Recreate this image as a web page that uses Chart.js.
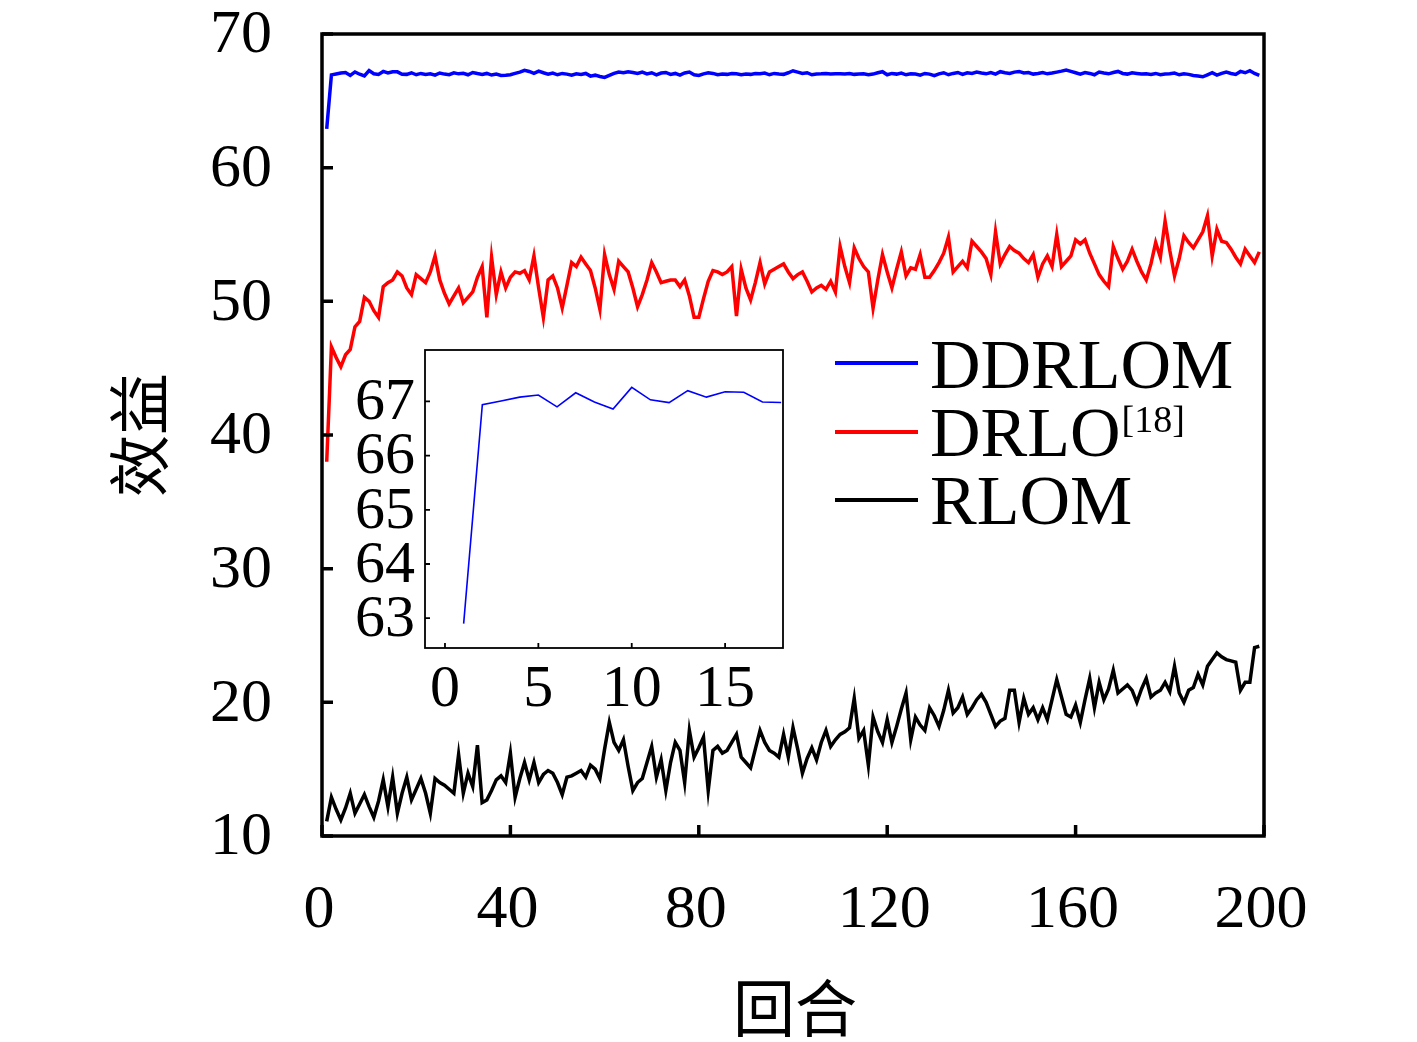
<!DOCTYPE html>
<html>
<head>
<meta charset="utf-8">
<script src="https://cdn.jsdelivr.net/npm/chart.js@4.4.1/dist/chart.umd.min.js"></script>
<style>
  html, body { margin: 0; padding: 0; background: #fff; }
  #wrap { position: relative; width: 1417px; height: 1042px; }
  #main { position: absolute; left: 0; top: 0; }
  #inset { position: absolute; left: 330px; top: 340px; }
</style>
</head>
<body>
<div id="wrap">
  <canvas id="main" width="1417" height="1042"></canvas>
  <canvas id="inset" width="460" height="390"></canvas>
</div>
<script>
// values, episode 1..199
const ddrlom = [
  62.90, 66.94, 67.01, 67.08, 67.12, 66.90, 67.16, 66.99, 66.86, 67.26,
  67.03, 66.98, 67.20, 67.08, 67.18, 67.17, 66.99, 66.98, 67.10, 66.95,
  67.05, 66.98, 67.02, 66.92, 67.08, 67.00, 66.96, 67.10, 67.02, 67.06,
  66.95, 67.12, 67.04, 66.98, 67.05, 66.93, 67.00, 66.90, 66.92, 66.95,
  67.05, 67.15, 67.28, 67.20, 67.05, 67.22, 67.10, 67.00, 67.08, 66.95,
  67.05, 67.00, 66.92, 67.02, 66.98, 67.05, 66.85, 66.92, 66.82, 66.75,
  66.90, 67.05, 67.15, 67.10, 67.18, 67.12, 67.05, 67.15, 67.02, 67.10,
  66.95, 67.08, 67.12, 66.98, 67.05, 66.92, 67.08, 67.15, 66.95, 66.90,
  67.02, 67.10, 67.05, 66.95, 67.00, 66.98, 67.05, 67.02, 66.96, 67.00,
  66.98, 67.04, 67.02, 67.08, 66.95, 67.05, 67.00, 66.98, 67.10, 67.25,
  67.15, 67.05, 67.10, 66.95, 67.00, 67.02, 67.05, 67.00, 67.03, 67.02,
  67.00, 67.05, 66.98, 67.00, 67.02, 66.95, 67.00, 67.10, 67.18, 66.95,
  67.05, 67.00, 67.08, 66.95, 67.02, 67.00, 66.92, 67.05, 67.00, 66.88,
  67.02, 67.10, 66.95, 67.05, 67.12, 66.98, 67.10, 67.05, 67.15, 67.08,
  67.02, 67.12, 67.00, 67.18, 67.10, 67.05, 67.15, 67.20, 67.08, 67.12,
  67.00, 67.05, 67.12, 67.02, 67.08, 67.15, 67.22, 67.30, 67.20, 67.10,
  67.00, 67.12, 67.05, 66.95, 67.15, 67.08, 67.02, 67.12, 67.20, 67.05,
  67.00, 67.10, 67.05, 67.00, 67.02, 66.98, 67.05, 66.95, 67.00, 67.02,
  67.08, 66.95, 67.02, 66.98, 66.90, 66.85, 66.80, 66.95, 67.10, 66.92,
  67.05, 67.15, 67.05, 66.98, 67.20, 67.10, 67.25, 67.05, 66.90
];
const drlo = [
  38.0, 46.6, 45.8, 45.1, 46.0, 46.4, 48.1, 48.5, 50.3, 50.0,
  49.3, 48.8, 51.1, 51.4, 51.6, 52.2, 51.9, 51.0, 50.5, 52.0,
  51.7, 51.4, 52.2, 53.4, 51.6, 50.6, 49.8, 50.4, 51.0, 49.9,
  50.3, 50.7, 51.8, 52.6, 48.8, 53.3, 50.5, 52.2, 51.0, 51.8,
  52.2, 52.1, 52.3, 51.6, 53.4, 51.0, 48.8, 51.6, 51.9, 51.0,
  49.5, 51.2, 52.9, 52.6, 53.3, 52.8, 52.3, 51.0, 49.4, 53.5,
  52.0, 50.9, 53.0, 52.6, 52.2, 51.0, 49.6, 50.5, 51.6, 52.9,
  52.2, 51.4, 51.5, 51.6, 51.6, 51.1, 51.6, 50.4, 48.8, 48.8,
  50.2, 51.5, 52.3, 52.2, 52.0, 52.2, 52.6, 48.9, 52.4, 51.0,
  50.1, 51.4, 52.9, 51.3, 52.2, 52.4, 52.6, 52.8, 52.2, 51.7,
  52.0, 52.2, 51.5, 50.7, 51.0, 51.2, 50.9, 51.5, 50.7, 54.1,
  52.6, 51.4, 54.0, 53.2, 52.6, 52.2, 49.5, 51.6, 53.5, 52.2,
  51.0, 52.4, 53.7, 51.9, 52.5, 52.4, 53.5, 51.8, 51.8, 52.3,
  52.9, 53.6, 54.8, 52.2, 52.6, 53.0, 52.5, 54.5, 54.1, 53.7,
  53.2, 52.0, 55.2, 52.8, 53.5, 54.1, 53.8, 53.6, 53.2, 52.9,
  53.5, 51.8, 52.8, 53.4, 52.6, 55.0, 52.6, 53.0, 53.4, 54.6,
  54.3, 54.6, 53.6, 52.8, 52.0, 51.5, 51.1, 54.1, 53.2, 52.4,
  53.0, 53.9, 53.0, 52.2, 51.6, 52.8, 54.4, 53.3, 56.0, 53.8,
  51.9, 53.2, 54.9, 54.4, 54.0, 54.6, 55.2, 56.4, 53.4, 55.4,
  54.5, 54.4, 53.9, 53.3, 52.8, 53.9, 53.4, 52.9, 53.7
];
const rlom = [
  11.1, 12.9, 12.0, 11.2, 12.1, 13.2, 11.7, 12.4, 13.1, 12.2,
  11.4, 12.6, 14.2, 12.2, 14.4, 11.7, 13.2, 14.4, 12.7, 13.5,
  14.3, 13.2, 11.7, 14.3, 14.0, 13.8, 13.5, 13.2, 16.1, 13.2,
  14.7, 13.7, 16.8, 12.5, 12.7, 13.4, 14.2, 14.5, 14.0, 16.2,
  12.9, 14.3, 15.5, 14.2, 15.5, 14.0, 14.6, 14.9, 14.7, 14.0,
  13.1, 14.4, 14.5, 14.7, 14.9, 14.4, 15.3, 15.0, 14.3, 16.5,
  18.5, 17.0, 16.4, 17.2, 15.2, 13.4, 14.0, 14.3, 15.5, 16.7,
  14.4, 15.7, 13.4, 15.5, 17.0, 16.4, 14.0, 17.9, 15.9, 16.6,
  17.4, 13.4, 16.4, 16.7, 16.2, 16.4, 17.0, 17.6, 15.9, 15.5,
  15.1, 16.5, 17.9, 17.0, 16.4, 16.2, 15.9, 17.6, 15.9, 18.1,
  16.5, 14.7, 15.8, 16.6, 15.7, 17.0, 17.9, 16.7, 17.2, 17.6,
  17.8, 18.1, 20.3, 17.3, 17.9, 15.3, 18.9, 17.8, 17.0, 18.7,
  17.0, 18.2, 19.5, 20.7, 17.2, 18.9, 18.3, 17.9, 19.6, 19.0,
  18.2, 19.4, 20.9, 19.2, 19.6, 20.4, 19.1, 19.6, 20.2, 20.6,
  20.0, 19.1, 18.2, 18.6, 18.8, 20.9, 20.9, 18.5, 20.3, 19.1,
  19.6, 18.7, 19.6, 18.7, 20.2, 21.7, 20.4, 19.1, 18.9, 19.8,
  18.5, 20.2, 21.8, 19.6, 21.5, 20.2, 21.0, 22.4, 20.7, 21.0,
  21.3, 20.9, 20.0, 21.0, 21.8, 20.4, 20.7, 20.9, 21.5, 20.8,
  22.7, 20.7, 20.0, 20.9, 21.1, 22.1, 21.3, 22.7, 23.2, 23.7,
  23.4, 23.2, 23.1, 23.0, 20.9, 21.5, 21.5, 24.1, 24.2
];
const seriesNames = ['DDRLOM', 'DRLO', 'RLOM'];
const seriesSup = ['', '[18]', ''];
const seriesColors = ['#0000ff', '#ff0000', '#000000'];
const mainXTicks = [0, 40, 80, 120, 160, 200];
const mainYTicks = [10, 20, 30, 40, 50, 60, 70];
const insetCount = 18;
const insetXTicks = [0, 5, 10, 15];
const insetYTicks = [63, 64, 65, 66, 67];
const xTitle = '回合';
const yTitle = '效益';

const serif = "'Liberation Serif', 'DejaVu Serif', serif";
const cjk = "'Noto Sans CJK SC', sans-serif";
const toPoints = arr => arr.map((v, i) => ({ x: i + 1, y: v }));

// box, inward tick marks and tick labels, all placed from the chart's scales
function frame(o) {
  return {
    id: 'frame',
    beforeDraw(chart) {
      const { ctx, chartArea: a } = chart;
      ctx.save();
      ctx.fillStyle = '#fff';
      ctx.fillRect(a.left, a.top, a.width, a.height);
      ctx.restore();
    },
    afterDraw(chart) {
      const { ctx, chartArea: a, scales: { x, y } } = chart;
      ctx.save();
      ctx.strokeStyle = '#000';
      ctx.lineWidth = o.lw;
      ctx.beginPath();
      x.ticks.forEach(t => {
        const px = x.getPixelForValue(t.value);
        ctx.moveTo(px, a.bottom); ctx.lineTo(px, a.bottom - o.len);
      });
      y.ticks.forEach(t => {
        const py = y.getPixelForValue(t.value);
        ctx.moveTo(a.left, py); ctx.lineTo(a.left + o.len, py);
      });
      ctx.stroke();
      ctx.strokeRect(a.left, a.top, a.width, a.height);

      ctx.fillStyle = '#000';
      ctx.font = o.size + 'px ' + serif;
      ctx.textBaseline = 'middle';
      ctx.textAlign = 'center';
      x.ticks.forEach(t => {
        ctx.fillText(String(t.value), x.getPixelForValue(t.value) + o.xShift, a.bottom + o.xGap);
      });
      ctx.textAlign = 'right';
      y.ticks.forEach(t => {
        ctx.fillText(String(t.value), a.left - o.yGap, y.getPixelForValue(t.value) + 2);
      });
      ctx.restore();
    }
  };
}

// axis titles and the legend with the superscript reference
const mainDecor = {
  id: 'mainDecor',
  afterDraw(chart) {
    const { ctx } = chart;
    ctx.save();
    ctx.fillStyle = '#000';
    ctx.font = '62px ' + cjk;
    ctx.textAlign = 'center';
    ctx.textBaseline = 'middle';
    ctx.fillText(xTitle, 795, 1008);
    ctx.translate(139, 435);
    ctx.rotate(-Math.PI / 2);
    ctx.fillText(yTitle, 0, 0);
    ctx.restore();

    const lineY = [363, 432, 500];
    const baseY = [388, 456, 524];
    ctx.save();
    seriesNames.forEach((name, i) => {
      ctx.strokeStyle = seriesColors[i];
      ctx.lineWidth = 4;
      ctx.beginPath();
      ctx.moveTo(835, lineY[i]); ctx.lineTo(918, lineY[i]);
      ctx.stroke();
      ctx.fillStyle = '#000';
      ctx.textAlign = 'left';
      ctx.textBaseline = 'alphabetic';
      ctx.font = '70px ' + serif;
      ctx.fillText(name, 930, baseY[i]);
      if (seriesSup[i]) {
        const w = ctx.measureText(name).width;
        ctx.font = '38px ' + serif;
        ctx.fillText(seriesSup[i], 930 + w + 1, baseY[i] - 24);
      }
    });
    ctx.restore();
  }
};

const hiddenAxis = { grid: { display: false }, border: { display: false }, ticks: { display: false } };

new Chart(document.getElementById('main'), {
  type: 'line',
  data: {
    datasets: [ddrlom, drlo, rlom].map((arr, i) => ({
      label: seriesNames[i],
      data: toPoints(arr),
      borderColor: seriesColors[i],
      borderWidth: 3.5,
      pointRadius: 0,
      tension: 0,
      fill: false
    }))
  },
  options: {
    responsive: false,
    animation: false,
    layout: { padding: { top: 34, right: 153, left: 322, bottom: 206 } },
    plugins: { legend: { display: false }, tooltip: { enabled: false } },
    scales: {
      x: {
        ...hiddenAxis, type: 'linear', min: 0, max: 200,
        afterBuildTicks: s => { s.ticks = mainXTicks.map(v => ({ value: v })); },
        afterFit: s => { s.height = 0; }
      },
      y: {
        ...hiddenAxis, type: 'linear', min: 10, max: 70,
        afterBuildTicks: s => { s.ticks = mainYTicks.map(v => ({ value: v })); },
        afterFit: s => { s.width = 0; }
      }
    }
  },
  plugins: [frame({ len: 11, lw: 3.5, size: 62, xGap: 75, xShift: -3, yGap: 50 }), mainDecor]
});

new Chart(document.getElementById('inset'), {
  type: 'line',
  data: {
    datasets: [{
      label: seriesNames[0],
      data: toPoints(ddrlom.slice(0, insetCount)),
      borderColor: seriesColors[0],
      borderWidth: 1.6,
      pointRadius: 0,
      tension: 0,
      fill: false
    }]
  },
  options: {
    responsive: false,
    animation: false,
    layout: { padding: { top: 10, right: 7, left: 95, bottom: 82 } },
    plugins: { legend: { display: false }, tooltip: { enabled: false } },
    scales: {
      x: {
        ...hiddenAxis, type: 'linear', min: -1.07, max: 18.1,
        afterBuildTicks: s => { s.ticks = insetXTicks.map(v => ({ value: v })); },
        afterFit: s => { s.height = 0; }
      },
      y: {
        ...hiddenAxis, type: 'linear', min: 62.45, max: 67.95,
        afterBuildTicks: s => { s.ticks = insetYTicks.map(v => ({ value: v })); },
        afterFit: s => { s.width = 0; }
      }
    }
  },
  plugins: [frame({ len: 5, lw: 1.8, size: 60, xGap: 42, xShift: 0, yGap: 10 })]
});
</script>
</body>
</html>
